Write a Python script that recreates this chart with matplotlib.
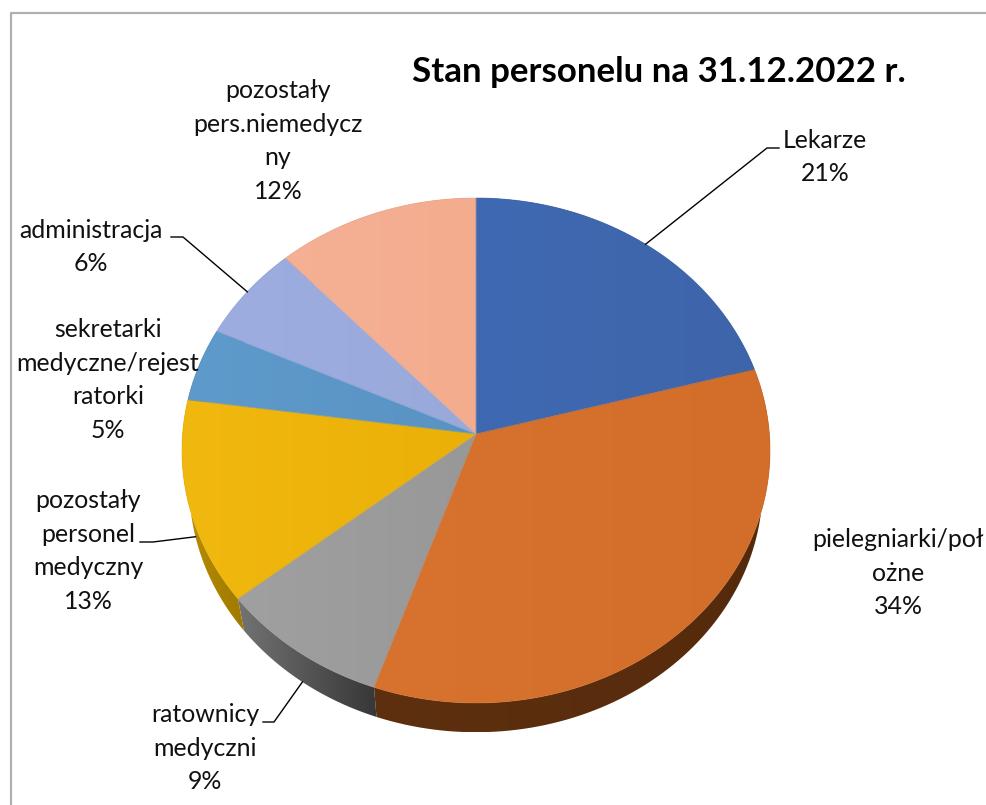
import numpy as np
import matplotlib
matplotlib.use("Agg")
import matplotlib.pyplot as plt
from matplotlib.colors import to_rgb
from matplotlib.patches import Polygon

plt.rcParams['font.family'] = ['Lato', 'DejaVu Sans']

labels = ['Lekarze', 'pielegniarki/poł\nożne', 'ratownicy\nmedyczni',
          'pozostały\npersonel\nmedyczny', 'sekretarki\nmedyczne/rejest\nratorki',
          'administracja', 'pozostały\npers.niemedycz\nny']
values = [20.8, 34.49, 8.9, 13.0, 4.7, 6.2, 11.91]
top_left = ['#3f69b2', '#d8732f', '#a0a0a0', '#f1b810', '#5e9acb', '#9dade0', '#f5b095']
top_right = ['#3e65aa', '#d26e2a', '#989898', '#eab008', '#5993c3', '#99a9da', '#f4ac8e']
side_left = ['#2b4676', '#5e300f', '#737373', '#b98e00', '#3e6a8e', '#6b7ba6', '#a8735c']
side_right = ['#2b4676', '#552a0c', '#373737', '#9f7a00', '#3e6a8e', '#6b7ba6', '#a8735c']
label_pos = [(825, 157), (898, 573), (205, 748), (88, 551), (108, 380), (91, 247), (278, 141)]
# elbow of each leader line, None = no line
elbows = [[(779, 148), (767, 148)], None, [(263, 722), (274, 722)],
          [(140, 542), (153, 542)], None, [(171, 237), (183, 237)], None]
front = [False, False, True, True, False, False, False]

cx, cy = 476, 434
sx, sy = 293.4, 251.4
k = 0.0653
depth = 36
base = 0.975


def rim(theta, scale=1.0, dy=0.0):
    x = np.sin(theta)
    y = np.cos(theta)
    d = 1 + k * y
    return np.column_stack((cx + scale * sx * x / d, cy + dy - scale * sy * y / d))


def gradient_fill(ax, verts, c1, c2, zorder, edge=None):
    patch = Polygon(verts, closed=True, fc='none', ec='none', zorder=zorder)
    ax.add_patch(patch)
    t = np.linspace(0, 1, 128)[:, None]
    a, b = np.array(to_rgb(c1)), np.array(to_rgb(c2))
    img = (a * (1 - t) + b * t)[None, :, :]
    im = ax.imshow(img, extent=(verts[:, 0].min(), verts[:, 0].max(), verts[:, 1].max(), verts[:, 1].min()),
                   aspect='auto', zorder=zorder, interpolation='bilinear')
    im.set_clip_path(patch)
    if edge:
        ax.add_patch(Polygon(verts, closed=True, fc='none', ec=edge, lw=0.6, alpha=0.6, zorder=zorder + 0.1))


fig = plt.figure(figsize=(9.87, 8.05), dpi=100)
ax = fig.add_axes([0, 0, 1, 1])

edges = np.cumsum([0] + values) / sum(values) * 2 * np.pi

for i in range(len(values)):
    th = np.linspace(edges[i], edges[i + 1], 90)
    wall = np.vstack((rim(th), rim(th[::-1], base, depth)))
    gradient_fill(ax, wall, side_left[i], side_right[i], 2)

for i in range(len(values)):
    th = np.linspace(edges[i], edges[i + 1], 90)
    top = np.vstack(([[cx, cy]], rim(th)))
    gradient_fill(ax, top, top_left[i], top_right[i], 3, edge=top_right[i])

for i, name in enumerate(labels):
    pct = round(values[i] / sum(values) * 100)
    ax.text(label_pos[i][0], label_pos[i][1], f"{name}\n{pct}%", ha='center', va='center',
            fontsize=17.9, color='#111111', linespacing=1.55, zorder=6)
    if elbows[i]:
        mid = np.array([(edges[i] + edges[i + 1]) / 2])
        end = rim(mid, base, depth) if front[i] else rim(mid)
        pts = np.vstack((elbows[i], end))
        ax.plot(pts[:, 0], pts[:, 1], color='black', lw=1, zorder=5)

ax.text(659, 72, 'Stan personelu na 31.12.2022 r.', ha='center', va='center',
        fontsize=25.1, fontweight='bold', color='black', zorder=6)

# chart frame, only left and top are in the crop
ax.plot([10.5, 10.5, 987], [805, 13.5, 13.5], color='#b0b0b0', lw=1.6, zorder=1)

ax.set_xlim(0, 987)
ax.set_ylim(805, 0)
ax.axis('off')
fig.savefig('out.png', dpi=100, facecolor='white')
